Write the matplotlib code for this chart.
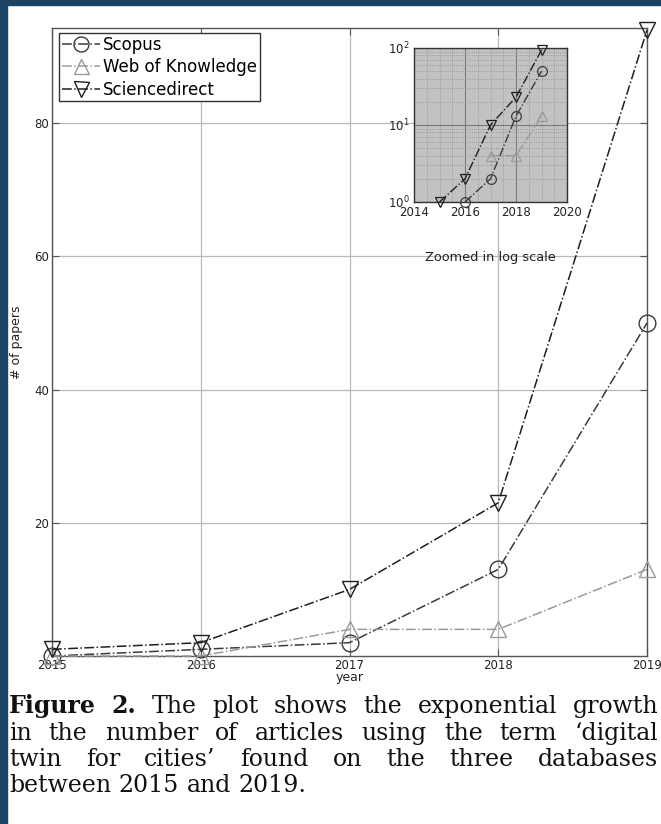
import numpy as np
import matplotlib.pyplot as plt
from matplotlib.ticker import AutoMinorLocator
from matplotlib.patches import Rectangle

years = [2015, 2016, 2017, 2018, 2019]
scopus = [0, 1, 2, 13, 50]
web_of_knowledge = [0, 0, 4, 4, 13]
sciencedirect = [1, 2, 10, 23, 94]

series = [
    ('Scopus', scopus, 'o', '#3a3a3a'),
    ('Web of Knowledge', web_of_knowledge, '^', '#9a9a9a'),
    ('Sciencedirect', sciencedirect, 'v', '#1e1e1e'),
]

caption_lines = [
    "Figure 2. The plot shows the exponential growth",
    "in the number of articles using the term \u2018digital",
    "twin for cities\u2019 found on the three databases",
    "between 2015 and 2019.",
]

W, H = 661, 824
fig = plt.figure(figsize=(W / 100, H / 100), dpi=100)
fig.patch.set_facecolor('white')

navy = '#1a4465'
fig.patches.append(Rectangle((0, 0), 7 / W, 1, transform=fig.transFigure, color=navy, zorder=-1))
fig.patches.append(Rectangle((0, 1 - 5 / H), 1, 5 / H, transform=fig.transFigure, color=navy, zorder=-1))

# main axes
ax = fig.add_axes([52 / W, 1 - 656 / H, 595 / W, 628 / H])
for name, vals, m, c in series:
    ax.plot(years, vals, linestyle='-.', color=c, lw=1.1, marker=m, markersize=12,
            markerfacecolor='none', markeredgecolor=c, markeredgewidth=1.0,
            label=name, clip_on=False, zorder=3)
ax.set_xlim(2015, 2019)
ax.set_ylim(0, 94.3)
ax.set_xticks(years)
ax.set_yticks([20, 40, 60, 80])
ax.grid(True, color='#b8b8b8', lw=0.9)
for s in ax.spines.values():
    s.set_color('#555555')
    s.set_linewidth(1.0)
ax.tick_params(direction='in', top=True, right=True, length=5, width=0.8, color='#555555',
               labelsize=8.5, labelcolor='#222222', pad=2)
ax.set_ylabel('# of papers', fontsize=9, color='#222222')
ax.yaxis.set_label_coords(-29 / 595, 0.5)
ax.set_xlabel('year', fontsize=9, color='#222222')
ax.xaxis.set_label_coords(0.5, -15 / 628)

leg = ax.legend(loc='upper left', bbox_to_anchor=(7 / 595, 1 - 5 / 628), borderaxespad=0,
                fontsize=12, fancybox=False, framealpha=1, edgecolor='#333333',
                handlelength=2.3, handletextpad=0.2, labelspacing=0.28,
                borderpad=0.15, markerscale=0.9)
leg.get_frame().set_linewidth(1.0)

# inset in log scale (zero counts cannot be shown on a log axis)
ins = fig.add_axes([414 / W, 1 - 202 / H, 153 / W, 154 / H])
ins.set_facecolor('#c2c2c2')
for name, vals, m, c in series:
    pos = np.ma.masked_less_equal(np.array(vals, dtype=float), 0)
    ins.plot(years, pos, linestyle='-.', color=c, lw=1.0, zorder=3)
    ins.plot(years, pos, linestyle='none', marker=m, markersize=7,
             markerfacecolor='none', markeredgecolor=c, markeredgewidth=0.9,
             clip_on=False, zorder=4)
ins.set_yscale('log')
ins.set_xlim(2014, 2020)
ins.set_ylim(1, 100)
ins.set_xticks([2014, 2016, 2018, 2020])
ins.xaxis.set_minor_locator(AutoMinorLocator(4))
ins.grid(True, which='major', color='#7a7a7a', lw=0.8)
ins.grid(True, which='minor', color='#8e8e8e', lw=0.6, linestyle=':')
ins.set_axisbelow(True)
for s in ins.spines.values():
    s.set_color('#333333')
    s.set_linewidth(1.0)
ins.tick_params(which='both', direction='in', length=0, labelsize=8.5, labelcolor='#222222', pad=3)
ins.text(0.5, -55 / 154, 'Zoomed in log scale', transform=ins.transAxes,
         ha='center', va='center', fontsize=9.3, color='#222222')

# caption, justified line by line
cap_font = dict(family='DejaVu Serif', size=17, color='#111111')
x0, x1 = 9, 658
baselines = [713, 740, 766, 792]
renderer = fig.canvas.get_renderer()
for i, (line, yb) in enumerate(zip(caption_lines, baselines)):
    words = line.split()
    texts = []
    for j, w in enumerate(words):
        bold = (i == 0 and j < 2)
        t = fig.text(0, 1 - yb / H, w, va='baseline', ha='left',
                     fontweight='bold' if bold else 'normal', **cap_font)
        texts.append(t)
    widths = [t.get_window_extent(renderer).width for t in texts]
    if i < len(caption_lines) - 1:
        gap = (x1 - x0 - sum(widths)) / (len(words) - 1)
    else:
        sp = fig.text(0, 0, 'a a', **cap_font)
        sp2 = fig.text(0, 0, 'aa', **cap_font)
        gap = sp.get_window_extent(renderer).width - sp2.get_window_extent(renderer).width
        sp.remove()
        sp2.remove()
    x = x0
    for t, w in zip(texts, widths):
        t.set_x(x / W)
        x += w + gap

fig.savefig('out.png', dpi=100)
